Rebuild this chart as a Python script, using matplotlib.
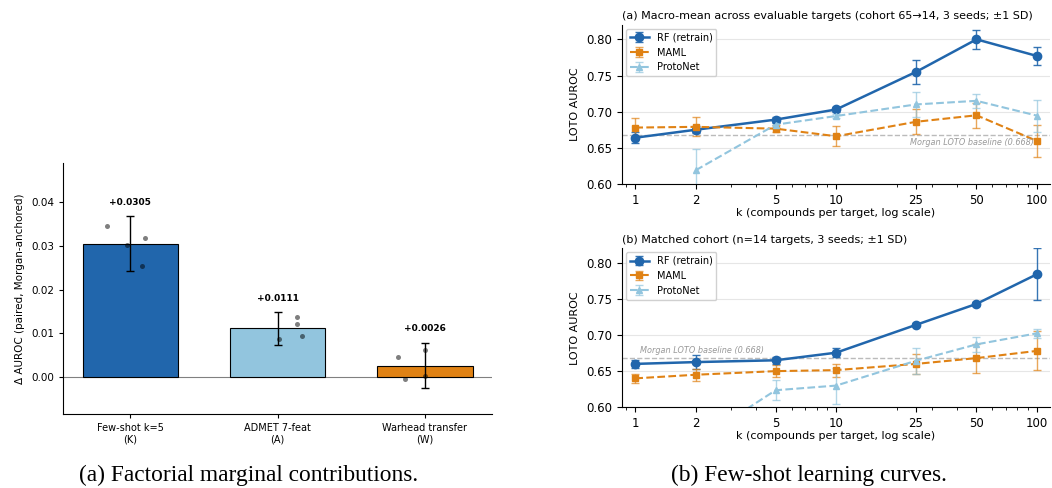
import numpy as np
import matplotlib
matplotlib.use("Agg")
import matplotlib.pyplot as plt
from matplotlib.ticker import NullFormatter

# ---- left panel: factorial marginal contributions ----
factors = ["Few-shot k=5\n(K)", "ADMET 7-feat\n(A)", "Warhead transfer\n(W)"]
delta_mean = [0.0305, 0.0111, 0.0026]
delta_sd = [0.0063, 0.0037, 0.0052]
bar_colors = ["#2166ac", "#92c5de", "#e08214"]
# per-pair contributions (x offset from bar centre, value)
pts_dx = [[-0.156, -0.022, 0.10, 0.082],
          [0.011, 0.134, 0.134, 0.168],
          [-0.179, -0.134, 0.0, 0.0]]
pts_val = [[0.0346, 0.0302, 0.0319, 0.0253],
           [0.0088, 0.0138, 0.0121, 0.0094],
           [0.0046, -0.0005, 0.0062, 0.0002]]

# ---- right panels: learning curves ----
ks = [1, 2, 5, 10, 25, 50, 100]
baseline = 0.668

rf_a = [0.664, 0.675, 0.689, 0.703, 0.755, 0.800, 0.777]
rf_a_sd = [0.008, 0.005, 0.004, 0.003, 0.017, 0.013, 0.0125]
maml_a = [0.678, 0.679, 0.6765, 0.666, 0.686, 0.695, 0.6595]
maml_a_sd = [0.013, 0.013, 0.005, 0.014, 0.017, 0.017, 0.022]
proto_a = [np.nan, 0.619, 0.682, 0.694, 0.710, 0.715, 0.6945]
proto_a_sd = [np.nan, 0.029, 0.004, 0.003, 0.017, 0.010, 0.022]

rf_b = [0.660, 0.6625, 0.665, 0.6755, 0.714, 0.743, 0.784]
rf_b_sd = [0.005, 0.010, 0.005, 0.006, 0.002, 0.003, 0.036]
maml_b = [0.640, 0.645, 0.650, 0.6514, 0.660, 0.668, 0.678]
maml_b_sd = [0.006, 0.008, 0.008, 0.009, 0.014, 0.020, 0.027]
proto_b = [0.545, 0.552, 0.6236, 0.630, 0.6644, 0.687, 0.7023]
proto_b_sd = [0.01, 0.01, 0.0135, 0.025, 0.018, 0.010, 0.0065]

fig = plt.figure(figsize=(10.52, 4.88), dpi=100)

# ==== (a) bar chart ====
ax = fig.add_axes([0.0599, 0.1516, 0.4078, 0.5143])
x = np.arange(len(factors))
ax.bar(x, delta_mean, width=0.65, color=bar_colors, edgecolor="black", linewidth=0.8)
ax.errorbar(x, delta_mean, yerr=delta_sd, fmt="none", ecolor="black",
            elinewidth=1.0, capsize=3, capthick=1.0)
for i in range(len(factors)):
    ax.scatter(x[i] + np.array(pts_dx[i]), pts_val[i], s=13, color="black",
               alpha=0.5, zorder=3, linewidths=0)
    ax.text(x[i], delta_mean[i] + delta_sd[i] + 0.0022, f"+{delta_mean[i]:.4f}",
            ha="center", va="bottom", fontsize=6.5, fontweight="bold")
ax.axhline(0, color="gray", linewidth=0.8, zorder=0)
ax.set_ylim(-0.0085, 0.049)
ax.set_xticks(x)
ax.set_xticklabels(factors, fontsize=7)
ax.set_yticks([0.0, 0.01, 0.02, 0.03, 0.04])
ax.set_yticklabels(["0.00", "0.01", "0.02", "0.03", "0.04"], fontsize=7.5)
ax.set_ylabel("Δ AUROC (paired, Morgan-anchored)", fontsize=7.5)
ax.spines["top"].set_visible(False)
ax.spines["right"].set_visible(False)
ax.tick_params(axis="both", length=3)


def curve(ax, y, sd, color, marker, ls, lw, ms, label, ealpha):
    eb = ax.errorbar(ks, y, yerr=sd, color=color, marker=marker, linestyle=ls,
                     linewidth=lw, markersize=ms, capsize=3, elinewidth=1.0,
                     label=label)
    for c in eb[1]:
        c.set_alpha(ealpha)
    for c in eb[2]:
        c.set_alpha(ealpha)


def learning_panel(rect, title, rf, rf_sd, ml, ml_sd, pr, pr_sd, base_text):
    ax = fig.add_axes(rect)
    ax.axhline(baseline, color="#bbbbbb", linestyle="--", linewidth=1.0, zorder=1)
    curve(ax, rf, rf_sd, "#2166ac", "o", "-", 1.8, 6, "RF (retrain)", 0.9)
    curve(ax, ml, ml_sd, "#e08214", "s", "--", 1.5, 5, "MAML", 0.7)
    curve(ax, pr, pr_sd, "#92c5de", "^", "--", 1.5, 5, "ProtoNet", 0.7)
    ax.set_xscale("log")
    ax.set_xlim(0.856, 116)
    ax.set_ylim(0.60, 0.82)
    ax.set_xticks(ks)
    ax.set_xticklabels([str(k) for k in ks], fontsize=8.5)
    ax.xaxis.set_minor_formatter(NullFormatter())
    ax.set_yticks([0.60, 0.65, 0.70, 0.75, 0.80])
    ax.set_yticklabels(["0.60", "0.65", "0.70", "0.75", "0.80"], fontsize=8.5)
    ax.grid(axis="y", color="#e6e6e6", linewidth=0.8)
    ax.set_axisbelow(True)
    ax.set_ylabel("LOTO AUROC", fontsize=8)
    ax.set_xlabel("k (compounds per target, log scale)", fontsize=8, labelpad=1)
    ax.set_title(title, fontsize=8, loc="left", pad=4)
    ax.spines["top"].set_visible(False)
    ax.spines["right"].set_visible(False)
    ax.legend(loc="upper left", fontsize=7, framealpha=0.9, borderaxespad=0.4)
    base_text(ax)
    return ax


learning_panel([0.591, 0.623, 0.407, 0.326],
               "(a) Macro-mean across evaluable targets (cohort 65→14, 3 seeds; ±1 SD)",
               rf_a, rf_a_sd, maml_a, maml_a_sd, proto_a, proto_a_sd,
               lambda a: a.text(97, baseline - 0.004, f"Morgan LOTO baseline ({baseline})",
                                ha="right", va="top", fontsize=5.9, style="italic",
                                color="#999999"))
learning_panel([0.591, 0.1654, 0.407, 0.326],
               "(b) Matched cohort (n=14 targets, 3 seeds; ±1 SD)",
               rf_b, rf_b_sd, maml_b, maml_b_sd, proto_b, proto_b_sd,
               lambda a: a.text(1.06, baseline + 0.004, f"Morgan LOTO baseline ({baseline})",
                                ha="left", va="bottom", fontsize=5.9, style="italic",
                                color="#999999"))

fig.text(0.236, 0.026, "(a) Factorial marginal contributions.", ha="center",
         va="center", fontsize=16.8, family="Liberation Serif")
fig.text(0.769, 0.026, "(b) Few-shot learning curves.", ha="center",
         va="center", fontsize=16.8, family="Liberation Serif")

fig.savefig("out.png", dpi=100)
